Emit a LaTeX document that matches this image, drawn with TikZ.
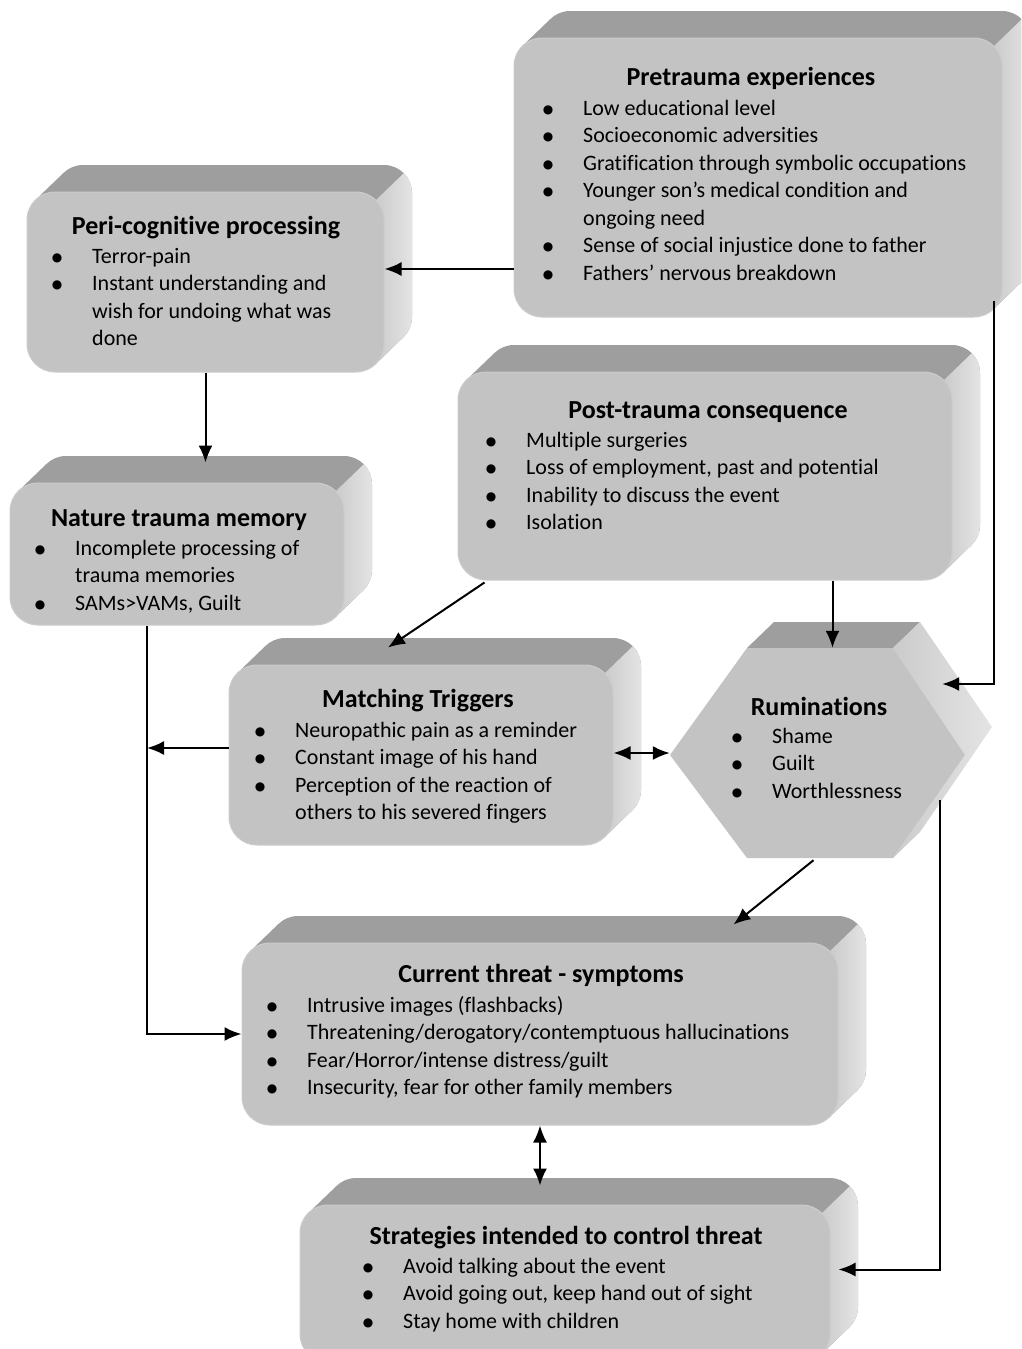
\documentclass[tikz,border=0pt]{standalone}
\usepackage{fontspec}
\setmainfont[Ligatures=NoCommon]{Carlito}
\newfontfamily\symfont{DejaVu Sans}
\usetikzlibrary{arrows.meta,calc}

\definecolor{frontc}{HTML}{C3C3C3}
\definecolor{topc}{HTML}{9E9E9E}
\definecolor{sidea}{HTML}{CBCBCB}
\definecolor{sideb}{HTML}{E4E4E4}

\newcommand\RR{28}
\newcommand\DX{28}
\newcommand\DY{27}

\tikzset{
  front/.style={fill=frontc, draw=frontc!85!white, line width=1pt, rounded corners=28pt, inner sep=0pt},
  ttl/.style={anchor=base, inner sep=0pt, font=\fontsize{26}{30}\selectfont\bfseries},
  lst/.style={anchor=base west, inner sep=0pt, font=\fontsize{22}{27.5}\selectfont},
  arr/.style={-{Latex[length=17pt,width=14pt]}, line width=2pt},
  darr/.style={{Latex[length=17pt,width=14pt]}-{Latex[length=17pt,width=14pt]}, line width=2pt},
}

\newcommand\bl{\makebox[0pt]{\raisebox{1.8pt}{\symfont\fontsize{12}{12}\selectfont ●}}\hspace*{35pt}}
\newcommand\ct{\hspace*{35pt}}

\newcommand\solidbox[5]{%
  \pgfmathsetmacro\xa{#2}\pgfmathsetmacro\ya{-(#3)}%
  \pgfmathsetmacro\xb{#4}\pgfmathsetmacro\yb{-(#5)}%
  \pgfmathsetmacro\ka{0.293*\RR}%
  \pgfmathsetmacro\ww{\xb-\xa}\pgfmathsetmacro\hh{\ya-\yb}%
  \fill[topc, rounded corners=28pt] (\xa+\DX,\yb+\DY) rectangle (\xb+\DX,\ya+\DY);
  \fill[topc] (\xa+\ka,\ya-\ka) -- ++(\DX,\DY) -- (\xb-\ka+\DX,\yb+\ka+\DY) -- (\xb-\ka,\yb+\ka) -- cycle;
  \shade[left color=sidea, right color=sideb] (\xb-\ka,\ya-\ka) -- ++(\DX,\DY)
     arc[start angle=45,end angle=0,radius=\RR] -- (\xb+\DX,\yb+\RR+\DY)
     arc[start angle=0,end angle=-45,radius=\RR] -- (\xb-\ka,\yb+\ka) -- cycle;
  \node[front, minimum width=\ww pt, minimum height=\hh pt] (#1) at ({(\xa+\xb)/2},{(\ya+\yb)/2}) {};
}

\begin{document}
\begin{tikzpicture}[x=1pt,y=1pt]
\useasboundingbox (0,0) rectangle (1021,-1349);
\clip (0,0) rectangle (1021,-1349);

% boxes
\solidbox{pre}{514}{38}{1002}{317}
\solidbox{peri}{27}{192}{384}{372}
\solidbox{nat}{10}{483}{344}{625}
\solidbox{post}{458}{372}{952}{580}
\solidbox{mat}{229}{665}{613}{845}
\solidbox{cur}{242}{943}{838}{1125}
\solidbox{str}{300}{1205}{830}{1362}

% hexagon
\fill[topc] (747,-648) -- (774,-622) -- (920,-622) -- (893,-648) -- cycle;
\shade[left color=sidea, right color=sideb] (893,-648) -- (920,-622) -- (992,-727) -- (920,-832) -- (893,-858) -- (965,-755) -- cycle;
\fill[frontc] (670,-755) -- (747,-648) -- (893,-648) -- (965,-755) -- (893,-858) -- (747,-858) -- cycle;
\node[minimum width=295pt, minimum height=210pt, inner sep=0pt] (rum) at (817.5,-753) {};

% texts
\node[ttl] (preT) at (751,-85) {Pretrauma experiences};
\node[lst] (preL) at (548,-115) {\begin{tabular}[t]{@{}l@{}}
\bl Low educational level\\
\bl Socioeconomic adversities\\
\bl Gratification through symbolic occupations\\
\bl Younger son’s medical condition and\\
\ct ongoing need\\
\bl Sense of social injustice done to father\\
\bl Fathers’ nervous breakdown
\end{tabular}};

\node[ttl] (periT) at (206,-234) {Peri-cognitive processing};
\node[lst] (periL) at (57,-263) {\begin{tabular}[t]{@{}l@{}}
\bl Terror-pain\\
\bl Instant understanding and\\
\ct wish for undoing what was\\
\ct done
\end{tabular}};

\node[ttl] (natT) at (179,-526) {Nature trauma memory};
\node[lst] (natL) at (40,-555) {\begin{tabular}[t]{@{}l@{}}
\bl Incomplete processing of\\
\ct trauma memories\\
\bl SAMs>VAMs, Guilt
\end{tabular}};

\node[ttl] (postT) at (708,-418) {Post-trauma consequence};
\node[lst] (postL) at (491,-447) {\begin{tabular}[t]{@{}l@{}}
\bl Multiple surgeries\\
\bl Loss of employment, past and potential\\
\bl Inability to discuss the event\\
\bl Isolation
\end{tabular}};

\node[ttl] (matT) at (418,-707) {Matching Triggers};
\node[lst] (matL) at (260,-737) {\begin{tabular}[t]{@{}l@{}}
\bl Neuropathic pain as a reminder\\
\bl Constant image of his hand\\
\bl Perception of the reaction of\\
\ct others to his severed fingers
\end{tabular}};

\node[ttl] (rumT) at (819,-715) {Ruminations};
\node[lst] (rumL) at (737,-743) {\begin{tabular}[t]{@{}l@{}}
\bl Shame\\
\bl Guilt\\
\bl Worthlessness
\end{tabular}};

\node[ttl] (curT) at (541,-982) {Current threat - symptoms};
\node[lst] (curL) at (272,-1012) {\begin{tabular}[t]{@{}l@{}}
\bl Intrusive images (flashbacks)\\
\bl Threatening/derogatory/contemptuous hallucinations\\
\bl Fear/Horror/intense distress/guilt\\
\bl Insecurity, fear for other family members
\end{tabular}};

\node[ttl] (strT) at (566,-1244) {Strategies intended to control threat};
\node[lst] (strL) at (368,-1273) {\begin{tabular}[t]{@{}l@{}}
\bl Avoid talking about the event\\
\bl Avoid going out, keep hand out of sight\\
\bl Stay home with children
\end{tabular}};

% connectors
\coordinate (ya) at (0,-269);
\coordinate (natin) at ([yshift=20pt]nat.north);
\coordinate (strin) at ([yshift=19pt]str.north);
\draw[arr] (pre.west |- ya) -- (peri.east |- ya);
\draw[arr] (peri.south) -- (peri.south |- natin);
\draw[arr] ([xshift=-9pt,yshift=17pt]pre.south east) |- ([xshift=-23pt,yshift=69pt]rum.east);
\draw[arr] ([xshift=15pt]rum.north |- post.south) -- ([xshift=15pt]rum.north);
\draw[arr] ([xshift=27pt,yshift=-2pt]post.south west) -- ([xshift=-33pt,yshift=17pt]mat.north);
\coordinate (jn) at (147,-748);
\draw[arr] (mat.west |- jn) -- (jn);
\draw[arr] (nat.south -| jn) |- (cur.west);
\draw[darr] (mat.east |- rum.west) -- (rum.west);
\draw[arr] ([xshift=-4pt,yshift=-2pt]rum.south) -- ([xshift=-105pt,yshift=18pt]cur.north east);
\draw[darr] (cur.south) -- (cur.south |- strin);
\draw[arr] ([xshift=-25pt,yshift=-47pt]rum.east) |- ([xshift=8pt,yshift=14pt]str.east);
\end{tikzpicture}
\end{document}
